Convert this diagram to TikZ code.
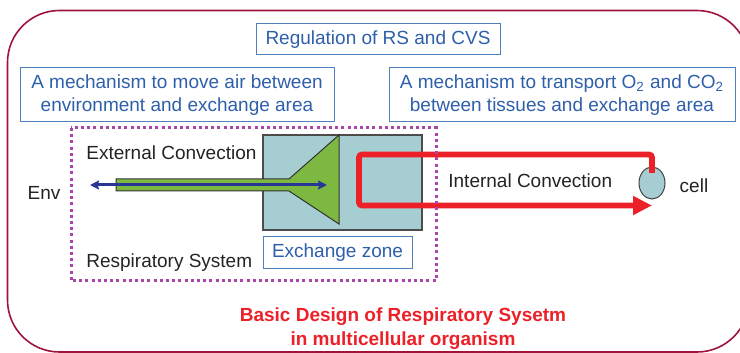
\documentclass[tikz,border=0pt]{standalone}
\usepackage{fontspec}
\setmainfont{Liberation Sans}
\usetikzlibrary{arrows.meta,shapes.geometric}

\definecolor{framered}{RGB}{160,20,60}
\definecolor{boxblue}{RGB}{79,129,189}
\definecolor{textblue}{RGB}{46,95,170}
\definecolor{dotpurple}{RGB}{170,70,170}
\definecolor{zoneteal}{RGB}{166,206,210}
\definecolor{funnelgreen}{RGB}{125,185,65}
\definecolor{flowred}{RGB}{236,32,40}
\definecolor{airblue}{RGB}{40,55,150}
\definecolor{darktext}{RGB}{35,35,35}

\begin{document}
\begin{tikzpicture}[x=0.5pt,y=-0.5pt,>={Stealth[length=4.5pt,width=4.5pt,inset=0.6pt]},
	font=\fontsize{9.5}{11.25}\selectfont,
	label box/.style={draw=boxblue,line width=0.5pt,text=textblue,align=center,inner sep=0pt},
	plain text/.style={text=darktext,inner sep=0pt},
	flow/.style={draw=flowred,line width=2.9pt,rounded corners=1.5pt}]
	
	\useasboundingbox (0,0) rectangle (740,353);
	\begin{scope}
		\clip (0,0) rectangle (740,353);
		\draw[framered,line width=0.8pt,rounded corners=26pt] (7.5,10.5) rectangle (749,352);
	\end{scope}
	
	\node[label box,minimum width=122pt,minimum height=15.5pt] (reg) at (378,39.5) {Regulation of RS and CVS};
	\node[label box,minimum width=157pt,minimum height=27pt] (air) at (177,95) {A mechanism to move air between\\environment and exchange area};
	\node[label box,minimum width=173pt,minimum height=27pt] (transport) at (562,95) {A mechanism to transport O\textsubscript{2} and CO\textsubscript{2}\\between tissues and exchange area};
	
	\node[draw=black!70,fill=zoneteal,line width=0.6pt,minimum width=79.5pt,minimum height=47.5pt,inner sep=0pt] (zone) at (342.5,182.5) {};
	\draw[fill=funnelgreen,draw=black!80,line width=0.5pt] (116,179) -- (289,179) -- (339,135) -- (339,224) -- (289,191) -- (116,191) -- cycle;
	
	\coordinate (envtip) at (90,185);
	\coordinate (zonetip) at (327,185);
	\draw[<->,airblue,line width=1.5pt] (envtip) -- (zonetip);
	
	\node[ellipse,draw=black!75,fill=zoneteal,line width=0.5pt,minimum width=13pt,minimum height=16pt,inner sep=0pt] (cell) at (652,183) {};
	\coordinate (flowstart) at (652,173);
	\coordinate (flowend) at (652,205.5);
	\draw[flow,-{Triangle[length=9.5pt,width=9pt]}] (flowstart) |- (359,154.5) |- (flowend);
	
	\draw[dotpurple,line width=1.5pt,dash pattern=on 1.5pt off 1.6pt] (71,128) rectangle (436,281);
	
	\node[label box,minimum width=74.5pt,minimum height=16pt] (exzone) at (337.5,253) {Exchange zone};
	
	\node[plain text,anchor=west] (extconv) at (86,153) {External Convection};
	\node[plain text] (env) at (44,193) {Env};
	\node[plain text,anchor=west] (rs) at (86,263) {Respiratory System};
	\node[plain text,anchor=west] (intconv) at (448,181) {Internal Convection};
	\node[plain text] (celltext) at (694,186) {cell};
	\node[text=flowred,font=\bfseries\fontsize{9.5}{12}\selectfont,align=center] (title) at (403,329) {Basic Design of Respiratory Sysetm\\in multicellular organism};
\end{tikzpicture}
\end{document}
